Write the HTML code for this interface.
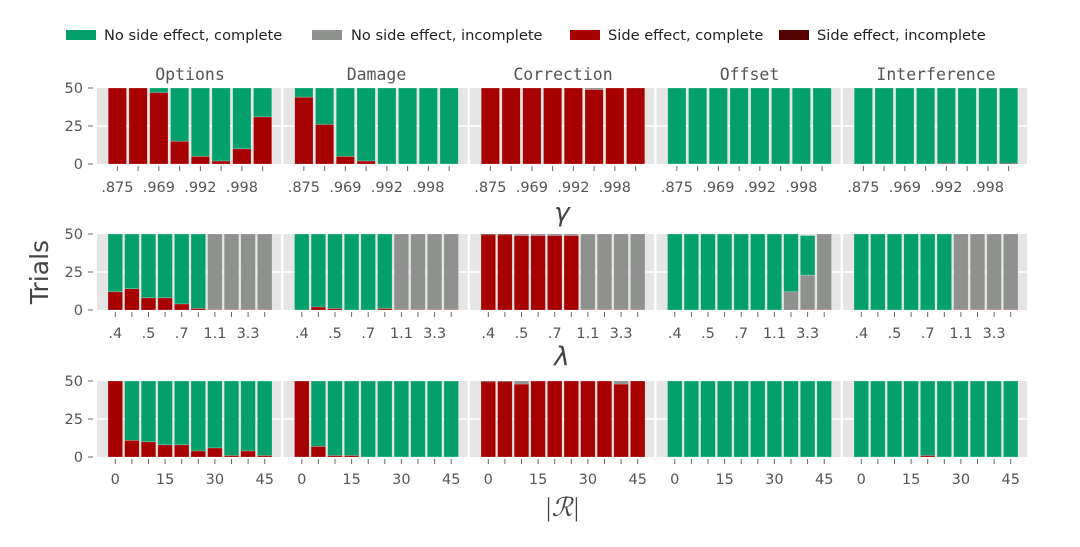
<!DOCTYPE html>
<html><head><meta charset="utf-8">
<style>
html,body{margin:0;padding:0;background:#fff;}
svg{display:block;font-family:"DejaVu Sans","Liberation Sans",sans-serif;}
</style></head>
<body>
<svg id="chart" width="1080" height="547" viewBox="0 0 1080 547" xmlns="http://www.w3.org/2000/svg">
  <g>
    <rect x="66" y="30" width="30" height="10" fill="#04a06b"/>
    <text x="104" y="40" font-size="14.6" fill="#222">No side effect, complete</text>
    <rect x="312" y="30" width="30" height="10" fill="#8f918e"/>
    <text x="351" y="40" font-size="14.6" fill="#222">No side effect, incomplete</text>
    <rect x="570" y="30" width="30" height="10" fill="#a60000"/>
    <text x="608" y="40" font-size="14.6" fill="#222">Side effect, complete</text>
    <rect x="779" y="30" width="30" height="10" fill="#550000"/>
    <text x="817" y="40" font-size="14.6" fill="#222">Side effect, incomplete</text>
  </g>
  <text transform="translate(48,272) rotate(-90)" text-anchor="middle" font-size="25" fill="#444">Trials</text>
  <text x="562" y="221" text-anchor="middle" font-size="26" font-style="italic" fill="#444">γ</text>
  <text x="562" y="365" text-anchor="middle" font-size="26" font-style="italic" fill="#444">λ</text>
  <text x="562" y="516" text-anchor="middle" font-size="26" font-style="italic" fill="#444" font-family="Liberation Serif, serif">|ℛ|</text>
  <g id="panels"></g>
</svg>
<script>
// Categories / tick labels
const panelTitles = ["Options","Damage","Correction","Offset","Interference"];
const gammaTicks = [".875",".969",".992",".998"];
const lambdaTicks = [".4",".5",".7","1.1","3.3"];
const rewardTicks = ["0","15","30","45"];
const yTicks = [0,25,50];

// Row 1 (gamma), 8 bars per panel
const r1SideComplete = [[50,50,47,15,5,2,10,31],[44,26,5,2,0,0,0,0],[50,50,50,50,50,49,50,50],[0,0,0,0,0,0,0,0],[0,0,0,0,0,0,0,0]];
const r1SideIncomplete = [[0,0,0,0,0,0,0,0],[0,0,0,0,0,0,0,0],[0,0,0,0,0,0,0,0],[0,0,0,0,0,0,0,0],[0,0,0,0,0.5,0,0,0.5]];
const r1NoSideIncomplete = [[0,0,0,0,0,0,0,0],[0,0,0,0,0,0,0,0],[0,0,0,0,0,1,0,0],[0,0,0,0,0,0,0,0],[0,0,0,0,0,0,0,0]];
const r1NoSideComplete = [[0,0,3,35,45,48,40,19],[6,24,45,48,50,50,50,50],[0,0,0,0,0,0,0,0],[50,50,50,50,50,50,50,50],[50,50,50,50,49.5,50,50,49.5]];

// Row 2 (lambda), 10 bars per panel
const r2SideComplete = [[12,14,8,8,4,1,0.3,0.3,0.3,0.3],[0,2,1,0,0,1,0.3,0.3,0.3,0.3],[49.5,49.5,49,49,49,49,0.3,0.3,0.3,0.3],[0,0,0,0,0,0,0,0,0.3,0.3],[0,0,0,0,0,0,0.3,0.3,0.3,0.3]];
const r2SideIncomplete = [[0,0,0,0,0,0,0,0,0,0],[0,0,0,0,0,0,0,0,0,0],[0.5,0.5,0,0,0,0,0,0,0,0],[0,0,0,0,0,0,0,0,0,0],[0,0,0,0,0,0,0,0,0,0]];
const r2NoSideIncomplete = [[0,0,0,0,0,0,49.7,49.7,49.7,49.7],[0,0,0,0,0,0,49.7,49.7,49.7,49.7],[0,0,1,1,1,1,49.7,49.7,49.7,49.7],[0,0,0,0,0,0,0,12,22.7,49.7],[0,0,0,0,0,0,49.7,49.7,49.7,49.7]];
const r2NoSideComplete = [[38,36,42,42,46,49,0,0,0,0],[50,48,49,50,50,49,0,0,0,0],[0,0,0,0,0,0,0,0,0,0],[50,50,50,50,50,50,50,38,26,0],[50,50,50,50,50,50,0,0,0,0]];

// Row 3 (|R|), 10 bars per panel
const r3SideComplete = [[50,11,10,8,8,4,6,1,4,1],[50,7,1,1,0,0,0,0,0,0],[49.5,49.5,48,50,50,50,50,50,48,50],[0,0,0,0,0,0,0,0,0,0],[0,0,0,0,1,0,0,0,0,0]];
const r3SideIncomplete = [[0,0,0,0,0,0,0,0,0,0],[0,0,0,0,0,0,0,0,0,0],[0.5,0.5,0,0,0,0,0,0,0,0],[0,0,0,0,0,0,0,0,0,0],[0,0,0,0,0,0,0,0,0,0]];
const r3NoSideIncomplete = [[0,0,0,0,0,0,0,0,0,0],[0,0,0,0,0,0,0,0,0,0],[0,0,2,0,0,0,0,0,2,0],[0,0,0,0,0,0,0,0,0,0],[0,0,0,0,0,0,0,0,0,0]];
const r3NoSideComplete = [[0,39,40,42,42,46,44,49,46,49],[0,43,49,49,50,50,50,50,50,50],[0,0,0,0,0,0,0,0,0,0],[50,50,50,50,50,50,50,50,50,50],[50,50,50,50,49,50,50,50,50,50]];

const colors = ["#a60000","#550000","#8f918e","#04a06b"];
const seriesNames = ["side-complete","side-incomplete","no-side-incomplete","no-side-complete"];
const rows = [
  {name:"gamma", top:88, bottom:164, n:8, ticks:gammaTicks, every:2, labelY:192,
   data:[r1SideComplete,r1SideIncomplete,r1NoSideIncomplete,r1NoSideComplete]},
  {name:"lambda", top:234, bottom:310, n:10, ticks:lambdaTicks, every:2, labelY:338,
   data:[r2SideComplete,r2SideIncomplete,r2NoSideIncomplete,r2NoSideComplete]},
  {name:"reward", top:381, bottom:457, n:10, ticks:rewardTicks, every:3, labelY:484,
   data:[r3SideComplete,r3SideIncomplete,r3NoSideIncomplete,r3NoSideComplete]}
];
const panelStarts = [107,293.5,480,666.5,853];
const span = 166;
const NS = "http://www.w3.org/2000/svg";
const root = document.getElementById("panels");
function mk(tag, attrs, parent){
  const e = document.createElementNS(NS, tag);
  for (const k in attrs) e.setAttribute(k, attrs[k]);
  parent.appendChild(e);
  return e;
}
rows.forEach((row, ri) => {
  const yScale = v => row.bottom - (v/50)*(row.bottom-row.top);
  panelStarts.forEach((px, pi) => {
    const g = mk("g", {}, root);
    
    
    const pitch = span / row.n;
    const bw = pitch * 0.88;
    const xScale = i => px + pitch * i + (pitch - bw) / 2;
    const bg = mk("rect", {x: px - 10, y: row.top, width: span + 18, height: row.bottom - row.top, fill: "#e5e5e5"}, g);
    
    
    yTicks.forEach(t => {
      if (t > 0 && t < 50) {
        const gl = mk("line", {x1: px - 10, x2: px + span + 8, y1: yScale(t), y2: yScale(t), stroke: "#fff", "stroke-width": 1.5}, g);
        
        
      }
    });
    if (pi === 0) {
      yTicks.forEach(t => {
        const tk = mk("line", {x1: 88, x2: 93, y1: yScale(t), y2: yScale(t), stroke: "#666", "stroke-width": 1}, g);
        
        
        const tl = mk("text", {x: 83, y: yScale(t) + 5, "text-anchor": "end", "font-size": 14.5, fill: "#555"}, g);
        
        
        tl.textContent = t;
      });
    }
    if (ri === 0) {
      const tt = mk("text", {x: px + span/2, y: 80, "text-anchor": "middle", "font-size": 16.5, fill: "#555", "font-family": "DejaVu Sans Mono, Liberation Mono, monospace"}, g);
      
      
      tt.textContent = panelTitles[pi];
    }
    for (let i = 0; i < row.n; i++) {
      let base = 0;
      const cx = xScale(i) + bw/2;
      for (let s = 0; s < 4; s++) {
        const v = row.data[s][pi][i];
        if (v > 0) {
          const r = mk("rect", {x: xScale(i), y: yScale(base + v), width: bw, height: yScale(base) - yScale(base + v), fill: colors[s], stroke: "rgba(255,255,255,0.35)", "stroke-width": 0.6}, g);
          
          
        }
        base += v;
      }
      const xt = mk("line", {x1: cx, x2: cx, y1: row.bottom + 2, y2: row.bottom + 7, stroke: "#666", "stroke-width": 1}, g);
      
      
      if (i % row.every === 0 && row.ticks[i / row.every] !== undefined) {
        const xl = mk("text", {x: cx, y: row.labelY, "text-anchor": "middle", "font-size": 14.5, fill: "#555"}, g);
        
        
        xl.textContent = row.ticks[i / row.every];
      }
    }
  });
});
</script>
</body></html>
